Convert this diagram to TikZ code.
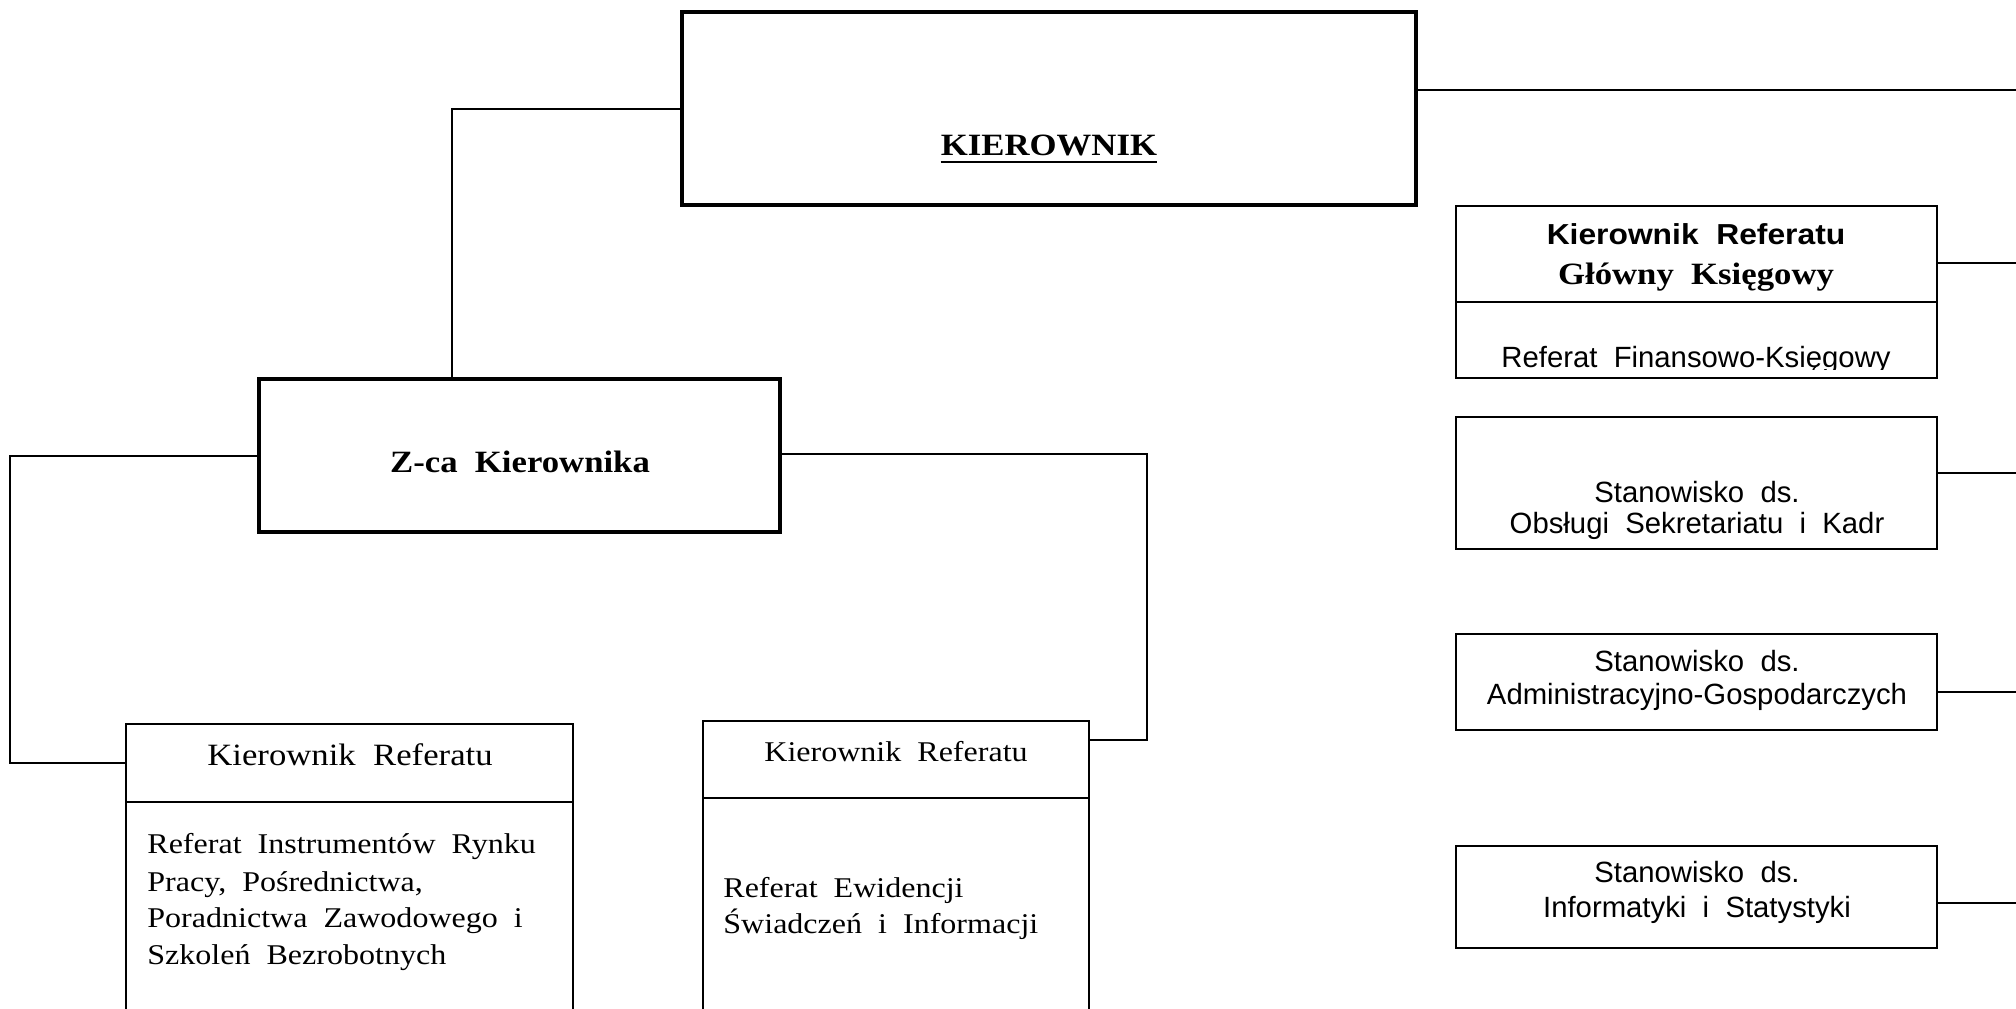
\documentclass[tikz,border=0pt]{standalone}
\usepackage{fontspec}
\setmainfont{Liberation Serif}[FakeStretch=1.12]
\setsansfont{Liberation Sans}
\newfontfamily\sanswide{Liberation Sans}[FakeStretch=1.1]
\usetikzlibrary{fit}
\begin{document}
\begin{tikzpicture}[x=0.5pt,y=-0.5pt,
  thinbox/.style={draw, line width=0.85pt, inner sep=0pt},
  thickbox/.style={draw, line width=2pt, inner sep=0pt},
  conn/.style={draw, line width=0.85pt},
  tx/.style={inner sep=0pt, anchor=base},
  txl/.style={inner sep=0pt, anchor=base west},
  bigbold/.style={font=\bfseries\fontsize{15.5}{18}\selectfont},
  serifhead/.style={font=\fontsize{15.5}{18}\selectfont},
  serifbody/.style={font=\fontsize{14.3}{17}\selectfont},
  sansbody/.style={font=\sffamily\fontsize{14.65}{17}\selectfont},
  sanshead/.style={font=\sanswide\bfseries\fontsize{14.45}{17}\selectfont}]
\useasboundingbox (0,0) rectangle (2016,1008);
\fill[white] (0,0) rectangle (2016,1008);
\clip (0,0) rectangle (2016,1008);

% boxes
\node[thickbox, fit={(682,12) (1416,205)}] (kier) {};
\node[thickbox, fit={(259,379) (780,532)}] (zca) {};
\node[thinbox, fit={(126,724) (573,1030)}] (refA) {};
\node[thinbox, fit={(703,721) (1089,1030)}] (refB) {};
\node[thinbox, fit={(1456,206) (1937,378)}] (fin) {};
\node[thinbox, fit={(1456,417) (1937,549)}] (sek) {};
\node[thinbox, fit={(1456,634) (1937,730)}] (adm) {};
\node[thinbox, fit={(1456,846) (1937,948)}] (inf) {};

% dividers
\coordinate (dA) at (0,802);
\coordinate (dB) at (0,798);
\coordinate (dF) at (0,302);
\draw[conn] (refA.west |- dA) -- (refA.east |- dA);
\draw[conn] (refB.west |- dB) -- (refB.east |- dB);
\draw[conn] (fin.west |- dF) -- (fin.east |- dF);

% connectors
\coordinate (kL) at (452,109);
\draw[conn] (kier.west |- kL) -- (kL) -- (kL |- zca.north);
\coordinate (kR) at (2016,90);
\draw[conn] (kier.east |- kR) -- (kR);
\coordinate (zL) at (10,456);
\coordinate (zLb) at (10,763);
\draw[conn] (zca.west |- zL) -- (zL) -- (zLb) -- (refA.west |- zLb);
\coordinate (zR) at (1147,454);
\coordinate (zRb) at (1147,740);
\draw[conn] (zca.east |- zR) -- (zR) -- (zRb) -- (refB.east |- zRb);
\coordinate (r1) at (2016,263);
\coordinate (r2) at (2016,473);
\coordinate (r3) at (2016,692);
\coordinate (r4) at (2016,903);
\draw[conn] (fin.east |- r1) -- (r1);
\draw[conn] (sek.east |- r2) -- (r2);
\draw[conn] (adm.east |- r3) -- (r3);
\draw[conn] (inf.east |- r4) -- (r4);

% texts
\node[tx, bigbold] (kt) at (1049,155) {KIEROWNIK};
\draw[line width=1.4pt] ([yshift=-3.5pt]kt.base west) -- ([yshift=-3.5pt]kt.base east);
\node[tx, bigbold] (zt) at (520,472) {Z-ca\ \ Kierownika};

\node[tx, serifhead] (ah) at (350,765) {Kierownik\ \ Referatu};
\node[txl, serifbody] (a1) at (147,853) {Referat\ \ Instrumentów\ \ Rynku};
\node[txl, serifbody] (a2) at (147,891) {Pracy,\ \ Pośrednictwa,};
\node[txl, serifbody] (a3) at (147,927) {Poradnictwa\ \ Zawodowego\ \ i};
\node[txl, serifbody] (a4) at (147,964) {Szkoleń\ \ Bezrobotnych};

\node[tx, serifbody] (bh) at (896,761) {Kierownik\ \ Referatu};
\node[txl, serifbody] (b1) at (723,897) {Referat\ \ Ewidencji};
\node[txl, serifbody] (b2) at (723,933) {Świadczeń\ \ i\ \ Informacji};

\node[tx, sanshead] (f1) at (1696,244) {Kierownik\ \ Referatu};
\node[tx, bigbold] (f2) at (1696,284) {Główny\ \ Księgowy};
\begin{scope}
\clip (1458,304) rectangle (1935,369);
\node[tx, sansbody] (f3) at (1696,367) {Referat\ \ Finansowo-Księgowy};
\end{scope}

\node[tx, sansbody] (s1) at (1697,502) {Stanowisko\ \ ds.};
\node[tx, sansbody] (s2) at (1697,533) {Obsługi\ \ Sekretariatu\ \ i\ \ Kadr};

\node[tx, sansbody] (g1) at (1697,671) {Stanowisko\ \ ds.};
\node[tx, sansbody] (g2) at (1697,704) {Administracyjno-Gospodarczych};

\node[tx, sansbody] (i1) at (1697,882) {Stanowisko\ \ ds.};
\node[tx, sansbody] (i2) at (1697,917) {Informatyki\ \ i\ \ Statystyki};
\end{tikzpicture}
\end{document}
